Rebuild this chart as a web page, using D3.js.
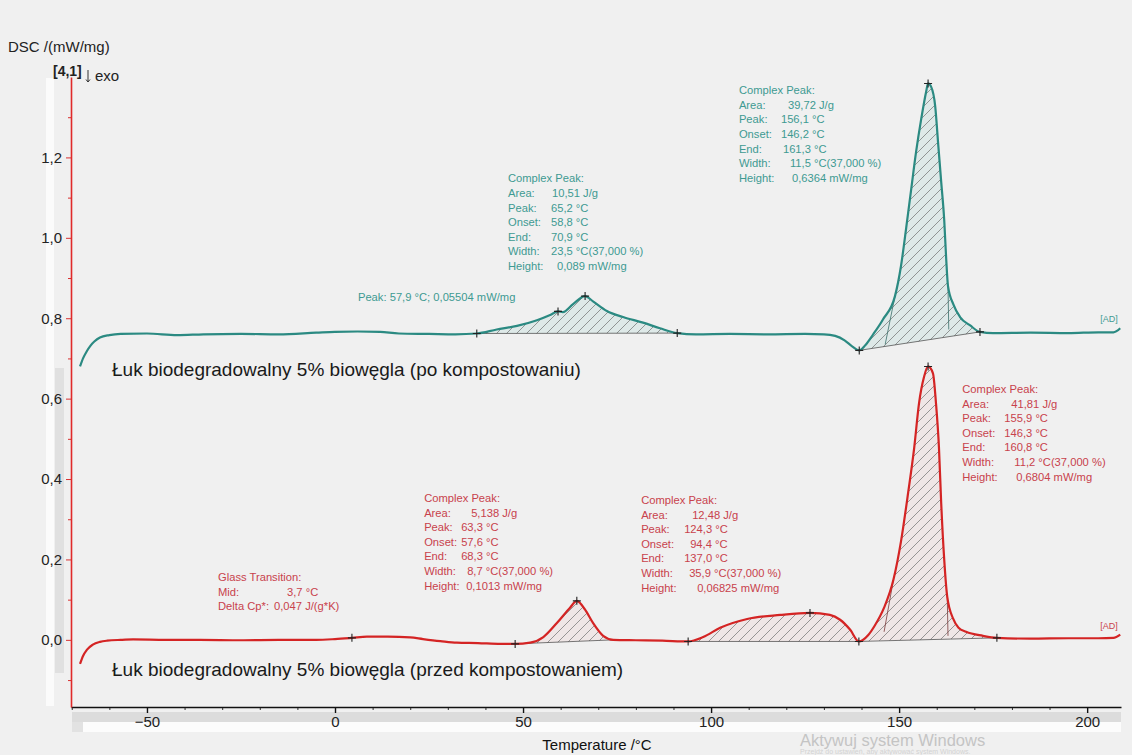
<!DOCTYPE html>
<html><head><meta charset="utf-8">
<script src="https://cdn.jsdelivr.net/npm/d3@7"></script>
<style>
body{margin:0;background:#f0f0f0;}
svg{display:block;font-family:"Liberation Sans",Arial,sans-serif;}
</style>
</head><body><svg id="c" width="1132" height="755"></svg>
<script>
// ---------- DATA ----------
const tempAfter = [-67.8,-67,-66,-65,-64,-62.5,-60,-57,-50,-42,-35,-25,-15,-5,0,6,12,17,25,32,37.7,43,48.4,53.7,57.2,59.3,60.6,63.3,66.5,68.6,72.3,76.6,81.9,86.4,91,96,105,115,125,130,133,135.5,137.5,139.4,141,143.1,145.7,148.9,150.5,151.9,153.2,154.5,155.9,157.2,157.7,158.5,159.6,160.4,161.2,162,162.5,163,164.4,166.2,168.9,171.5,175,185,195,203,207,208.8];
const dscAfter  = [0.680,0.700,0.718,0.732,0.742,0.752,0.758,0.761,0.762,0.758,0.760,0.761,0.760,0.764,0.766,0.767,0.766,0.762,0.761,0.760,0.762,0.772,0.781,0.795,0.808,0.817,0.815,0.835,0.855,0.842,0.818,0.803,0.789,0.775,0.763,0.760,0.761,0.760,0.761,0.760,0.756,0.745,0.730,0.720,0.733,0.760,0.797,0.855,0.930,1.026,1.120,1.213,1.297,1.364,1.384,1.376,1.327,1.232,1.138,1.043,0.951,0.880,0.835,0.803,0.782,0.766,0.763,0.764,0.763,0.765,0.765,0.775];

const tempBefore = [-67.8,-67,-66,-64.4,-62.5,-60.6,-57,-53.7,-45,-36,-25,-15,-5,0,4.5,8.5,14,20,23.4,28,32.4,38,44,47.9,51.9,55.4,59,62.5,64.3,66.5,68.6,71.3,74,80,87,93.9,97.9,102.4,109.6,118.4,126.3,131.6,134.3,137,139.3,141.8,143.5,146,148.5,150.5,152.4,154,155.3,156.6,157.7,159,159.8,160.6,161.2,162,162.8,164.4,165.8,167.8,172.3,176,185,195,203,207,208.8];
const dscBefore  = [-0.060,-0.040,-0.025,-0.012,-0.005,-0.002,0.0,0.001,0.0,0.0,-0.001,0.0,0.0,0.002,0.005,0.008,0.008,0.006,0.002,-0.003,-0.007,-0.008,-0.010,-0.010,-0.007,0.007,0.042,0.080,0.097,0.075,0.042,0.010,0.0,-0.001,-0.002,-0.004,0.007,0.030,0.052,0.062,0.067,0.062,0.050,0.025,-0.004,0.012,0.035,0.080,0.150,0.245,0.366,0.477,0.589,0.653,0.680,0.663,0.589,0.477,0.338,0.199,0.107,0.052,0.030,0.020,0.010,0.005,0.003,0.004,0.004,0.005,0.013];

const xTickValues = [-50,0,50,100,150,200];
const yTickValues = [0,0.2,0.4,0.6,0.8,1.0,1.2];
const yTickLabels = ["0,0","0,2","0,4","0,6","0,8","1,0","1,2"];

const peaksAfter  = [[37.7,91],[139.4,171.5]];
const peaksBefore = [[47.9,74],[93.9,139.3],[139.3,176]];
const markersAfter  = [37.7,59.3,66.5,91,139.4,157.7,171.5];
const markersBefore = [4.5,47.9,64.3,93.9,126.3,139.3,157.7,176];

const sampleLabels = ["Łuk biodegradowalny 5% biowęgla (po kompostowaniu)","Łuk biodegradowalny 5% biowęgla (przed kompostowaniem)"];

const annAfterPeak1 = [["Complex Peak:",""],["Area:","10,51 J/g"],["Peak:","65,2 °C"],["Onset:","58,8 °C"],["End:","70,9 °C"],["Width:","23,5 °C(37,000 %)"],["Height:","0,089 mW/mg"]];
const annAfterPeak2 = [["Complex Peak:",""],["Area:","39,72 J/g"],["Peak:","156,1 °C"],["Onset:","146,2 °C"],["End:","161,3 °C"],["Width:","11,5 °C(37,000 %)"],["Height:","0,6364 mW/mg"]];
const annAfterShoulder = [["Peak: 57,9 °C; 0,05504 mW/mg",""]];
const annBeforeGlass = [["Glass Transition:",""],["Mid:","3,7 °C"],["Delta Cp*:","0,047 J/(g*K)"]];
const annBeforePeak1 = [["Complex Peak:",""],["Area:","5,138 J/g"],["Peak:","63,3 °C"],["Onset:","57,6 °C"],["End:","68,3 °C"],["Width:","8,7 °C(37,000 %)"],["Height:","0,1013 mW/mg"]];
const annBeforePeak2 = [["Complex Peak:",""],["Area:","12,48 J/g"],["Peak:","124,3 °C"],["Onset:","94,4 °C"],["End:","137,0 °C"],["Width:","35,9 °C(37,000 %)"],["Height:","0,06825 mW/mg"]];
const annBeforePeak3 = [["Complex Peak:",""],["Area:","41,81 J/g"],["Peak:","155,9 °C"],["Onset:","146,3 °C"],["End:","160,8 °C"],["Width:","11,2 °C(37,000 %)"],["Height:","0,6804 mW/mg"]];

// ---------- LAYOUT ----------
const svg = d3.select("#c");
const W = 1132, H = 755;
const x = d3.scaleLinear().domain([-70.2, 209]).range([71, 1121]);
const y = d3.scaleLinear().domain([-0.167, 1.4]).range([707, 77]);

const TEAL = "#2b8a82", TEAL_T = "#3e9a92";
const RED = "#d42424", RED_T = "#c8424c";

svg.append("rect").attr("width",W).attr("height",H).attr("fill","#f0f0f0");

// side strips (scroll bars of the software)
svg.append("rect").attr("x",46).attr("y",78).attr("width",8).attr("height",628).attr("fill","#fbfbfb");
svg.append("rect").attr("x",55).attr("y",368).attr("width",9).attr("height",305).attr("fill","#e0e0e0");
svg.append("rect").attr("x",72).attr("y",712).attr("width",1049).attr("height",10).attr("fill","#dcdcdc");
svg.append("rect").attr("x",72).attr("y",722).attr("width",11).attr("height",10).attr("fill","#e2e2e2");
svg.append("rect").attr("x",83).attr("y",722).attr("width",1038).attr("height",10).attr("fill","#fcfcfc");

// hatch patterns
const defs = svg.append("defs");
function pattern(id, tint){
  const p = defs.append("pattern").attr("id",id).attr("patternUnits","userSpaceOnUse")
    .attr("width",10).attr("height",10);
  p.append("rect").attr("width",10).attr("height",10).attr("fill",tint);
  p.append("path").attr("d","M-1,11 L11,-1 M-6,6 L6,-6 M4,16 L16,4").attr("stroke","#5a5a5a").attr("stroke-width",0.6);
}
pattern("hatchTeal","rgba(90,180,170,0.12)");
pattern("hatchRed","rgba(225,110,110,0.08)");

const curve = d3.curveMonotoneX;
const after = tempAfter.map((t,i)=>[t,dscAfter[i]]);
const before = tempBefore.map((t,i)=>[t,dscBefore[i]]);

function drawPeaks(data, ranges, fillId){
  ranges.forEach(([a,b])=>{
    const pts = data.filter(d=>d[0]>=a && d[0]<=b);
    const p0 = pts[0], p1 = pts[pts.length-1];
    const base = t => p0[1] + (p1[1]-p0[1])*(t-p0[0])/(p1[0]-p0[0]);
    const area = d3.area().x(d=>x(d[0])).y0(d=>y(base(d[0]))).y1(d=>y(d[1])).curve(curve);
    svg.append("path").datum(pts).attr("d",area).attr("fill",`url(#${fillId})`);
    svg.append("line").attr("x1",x(p0[0])).attr("y1",y(p0[1])).attr("x2",x(p1[0])).attr("y2",y(p1[1]))
      .attr("stroke","#555").attr("stroke-width",0.8);
  });
}
drawPeaks(after, peaksAfter, "hatchTeal");
drawPeaks(before, peaksBefore, "hatchRed");

// onset / end construction lines
function constr(t1,v1,t2,v2,c){
  svg.append("line").attr("x1",x(t1)).attr("y1",y(v1)).attr("x2",x(t2)).attr("y2",y(v2))
    .attr("stroke",c).attr("stroke-width",0.8);
}
constr(146.3,0.735,148.9,0.855,"#3a6f6a");
constr(163.2,0.772,163.0,0.880,"#3a6f6a");
constr(146.0,0.02,148.5,0.15,"#7a3a3a");
constr(163.0,0.01,162.8,0.107,"#7a3a3a");

// axes
const xAxisG = svg.append("g").attr("transform",`translate(0,707)`);
xAxisG.call(d3.axisBottom(x).tickValues(d3.range(-70,210,10).filter(v=>v%50!==0)).tickSize(3).tickFormat("").tickSizeOuter(0));
xAxisG.call(g=>g.select(".domain").remove());
const xMaj = svg.append("g").attr("transform",`translate(0,707)`)
  .call(d3.axisBottom(x).tickValues(xTickValues).tickSize(6).tickSizeOuter(0).tickPadding(3));
xMaj.select(".domain").attr("stroke","#111").attr("stroke-width",1.6);
xAxisG.selectAll("line").attr("stroke","#333");
xMaj.selectAll("line").attr("stroke","#111").attr("stroke-width",1.4);
xMaj.selectAll("text").attr("font-size",15).attr("fill","#222").attr("font-family","Liberation Sans, Arial");

const yMin = svg.append("g").attr("transform",`translate(71,0)`)
  .call(d3.axisLeft(y).tickValues(d3.range(-0.1,1.35,0.2).map(v=>+v.toFixed(1))).tickSize(3).tickFormat("").tickSizeOuter(0));
yMin.select(".domain").remove();
yMin.selectAll("line").attr("stroke","#d83030");
const yMaj = svg.append("g").attr("transform",`translate(71,0)`)
  .call(d3.axisLeft(y).tickValues(yTickValues).tickSize(5).tickSizeOuter(0).tickPadding(4)
    .tickFormat((d,i)=>yTickLabels[i]));
yMaj.select(".domain").attr("stroke","#e02a2a").attr("stroke-width",1.6);
yMaj.selectAll("line").attr("stroke","#d83030");
yMaj.selectAll("text").attr("font-size",15).attr("fill","#222").attr("font-family","Liberation Sans, Arial");

// curves
const line = d3.line().x(d=>x(d[0])).y(d=>y(d[1])).curve(curve);
svg.append("path").datum(after).attr("d",line).attr("fill","none").attr("stroke",TEAL).attr("stroke-width",2.2);
svg.append("path").datum(before).attr("d",line).attr("fill","none").attr("stroke",RED).attr("stroke-width",2.2);

// markers
function markers(data, temps){
  temps.forEach(t=>{
    const d = data.find(p=>p[0]===t);
    const cx = x(d[0]), cy = y(d[1]);
    svg.append("path").attr("d",`M${cx-4},${cy}H${cx+4}M${cx},${cy-4}V${cy+4}`)
      .attr("stroke","#222").attr("stroke-width",1.1);
  });
}
markers(after, markersAfter);
markers(before, markersBefore);

// annotations
function annotate(rows, t, v, offsets, color){
  const x0 = x(t), y0 = y(v);
  rows.forEach((r,i)=>{
    const yy = y0 + i*14.6;
    svg.append("text").attr("x",x0).attr("y",yy).attr("font-size",11.2).attr("fill",color).text(r[0]);
    if(r[1]) svg.append("text").attr("x",x0+offsets[i]).attr("y",yy).attr("font-size",11.2).attr("fill",color).text(r[1]);
  });
}
annotate(annAfterPeak1, 46.0, 1.138, [0,44,43,43,43,43,49], TEAL_T);
annotate(annAfterPeak2, 107.4, 1.357, [0,49,42,42,44,51,53], TEAL_T);
annotate(annAfterShoulder, 6.1, 0.842, [0], TEAL_T);
annotate(annBeforeGlass, -31.1, 0.146, [0,69,56], RED_T);
annotate(annBeforePeak1, 23.7, 0.343, [0,47,37,37,37,43,42], RED_T);
annotate(annBeforePeak2, 81.4, 0.338, [0,51,43,49,43,48,56], RED_T);
annotate(annBeforePeak3, 166.8, 0.614, [0,49,42,42,42,52,54], RED_T);

// [AD] labels
svg.append("text").attr("x",x(203.5)).attr("y",y(0.790)).attr("font-size",9).attr("fill",TEAL_T).text("[AD]");
svg.append("text").attr("x",x(203.5)).attr("y",y(0.027)).attr("font-size",9).attr("fill",RED_T).text("[AD]");

// sample labels
svg.append("text").attr("x",112).attr("y",376).attr("font-size",19).attr("fill","#1a1a1a").text(sampleLabels[0]);
svg.append("text").attr("x",112).attr("y",676).attr("font-size",19).attr("fill","#1a1a1a").text(sampleLabels[1]);

// axis titles
svg.append("text").attr("x",8).attr("y",52).attr("font-size",15).attr("fill","#222").text("DSC /(mW/mg)");
svg.append("text").attr("x",53).attr("y",76).attr("font-size",14).attr("font-weight","bold").attr("fill","#222").text("[4,1]");
svg.append("path").attr("d","M88,70V82M86,79.5L88,82L90,79.5").attr("stroke","#333").attr("stroke-width",1).attr("fill","none");
svg.append("text").attr("x",95).attr("y",81).attr("font-size",15).attr("fill","#222").text("exo");
svg.append("text").attr("x",597).attr("y",750).attr("text-anchor","middle").attr("font-size",15).attr("fill","#111").text("Temperature /°C");

// OS watermark
svg.append("text").attr("x",800).attr("y",746).attr("font-size",16.5).attr("fill","#c4c4c4").text("Aktywuj system Windows");
svg.append("text").attr("x",800).attr("y",754).attr("font-size",7).attr("fill","#d2d2d2").text("Przejdź do ustawień, aby aktywować system Windows.");
</script>
</body></html>
